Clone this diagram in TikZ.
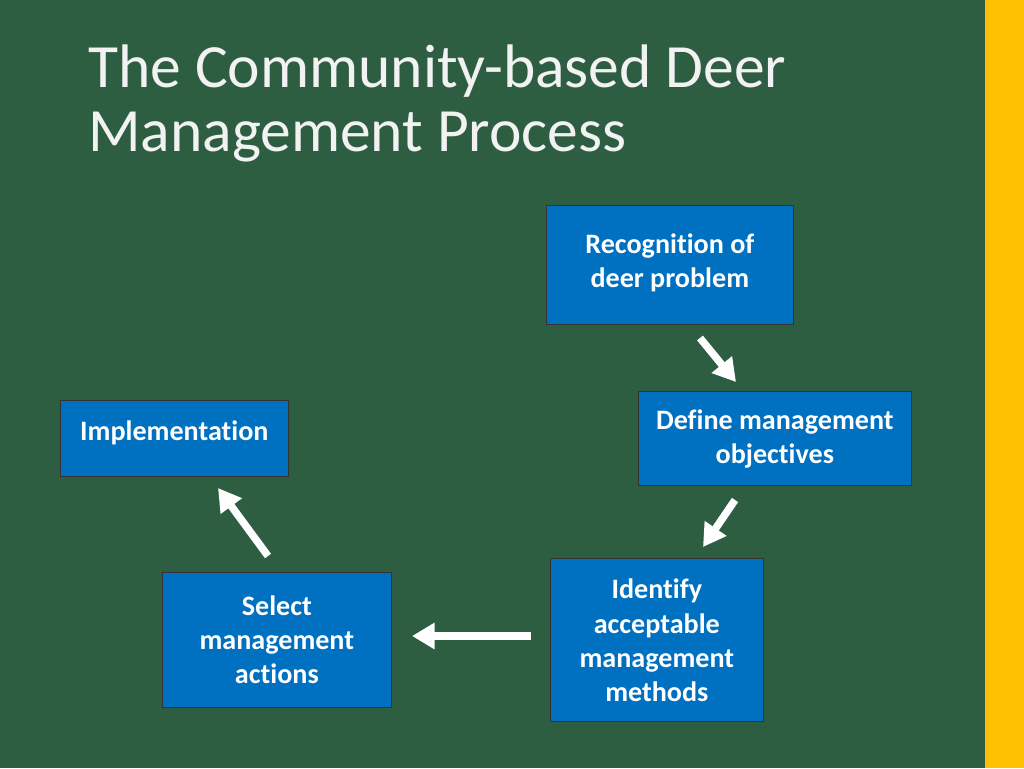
\documentclass[tikz,border=0pt]{standalone}
\usepackage{fontspec}
\setmainfont{Carlito}[Ligatures={NoCommon}]
\usetikzlibrary{arrows.meta,positioning}
\definecolor{slidegreen}{HTML}{2E5E42}
\definecolor{baryellow}{HTML}{FFC000}
\definecolor{boxblue}{HTML}{0070C0}
\tikzset{
  stepnode/.style={draw=black!80,fill=boxblue,anchor=north west,inner sep=0pt},
  steptext/.style={text=white,font=\fontsize{16}{19.5}\selectfont\bfseries,align=center},
  flow/.style={white,line width=0.15cm,-{Triangle[length=0.45cm,width=0.5cm]}}
}
\begin{document}
\begin{tikzpicture}[x=0.02cm,y=-0.02cm]
  % background
  \fill[slidegreen] (0,0) rectangle (1024,768);
  \fill[baryellow] (985,0) rectangle (1024,768);
  \node[anchor=north west,text=white!95!black,align=left,font=\fontsize{35}{36.5}\selectfont,inner sep=0pt] (title) at (88,44)
    {The Community-based Deer\\Management Process};

  % boxes
  \node[stepnode,minimum width=4.94cm,minimum height=2.38cm] (recog) at (546,205) {};
  \node[steptext,below=0.45cm of recog.north] {Recognition of\\deer problem};
  \node[stepnode,minimum width=5.46cm,minimum height=1.88cm] (define) at (638,391) {};
  \node[steptext,below=0.25cm of define.north] {Define management\\objectives};
  \node[stepnode,minimum width=4.26cm,minimum height=3.26cm] (ident) at (550,558) {};
  \node[steptext,below=0.3cm of ident.north] {Identify\\acceptable\\management\\methods};
  \node[stepnode,minimum width=4.58cm,minimum height=2.7cm] (select) at (162,572) {};
  \node[steptext,below=0.35cm of select.north] {Select\\management\\actions};
  \node[stepnode,minimum width=4.56cm,minimum height=1.52cm] (impl) at (60,400) {};
  \node[steptext,below=0.3cm of impl.north] {Implementation};

  % arrows
  \coordinate (a1) at (700,338); \coordinate (b1) at (736,382);
  \coordinate (a2) at (735,500); \coordinate (b2) at (703,547);
  \coordinate (a3) at (531,636); \coordinate (b3) at (412,636);
  \coordinate (a4) at (268,556); \coordinate (b4) at (218,488);
  \draw[flow] (a1) -- (b1);
  \draw[flow] (a2) -- (b2);
  \draw[flow] (a3) -- (b3);
  \draw[flow] (a4) -- (b4);
\end{tikzpicture}
\end{document}
